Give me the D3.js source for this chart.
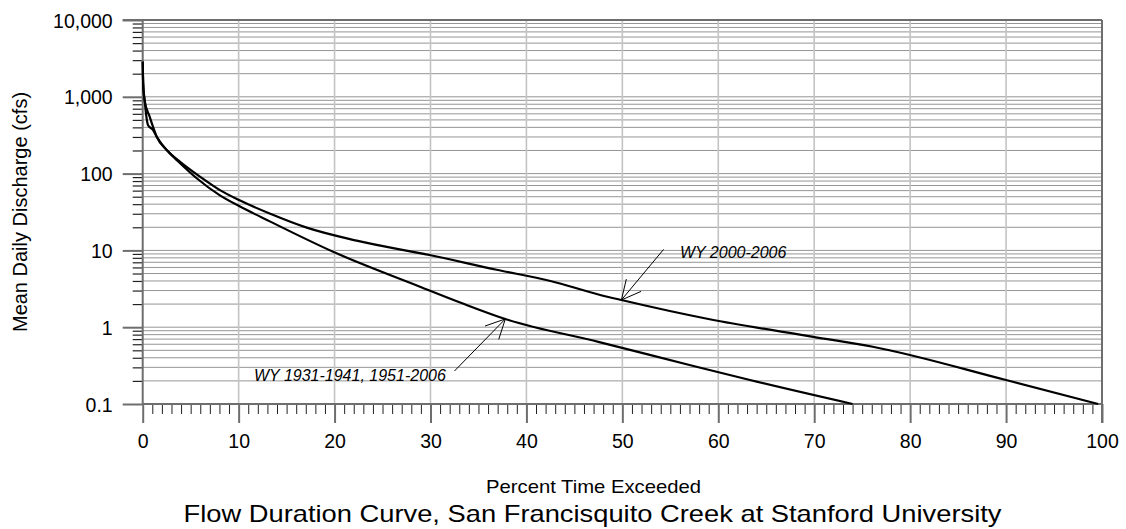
<!DOCTYPE html>
<html>
<head>
<meta charset="utf-8">
<script src="https://cdn.jsdelivr.net/npm/d3@7"></script>
<style>
  html, body { margin: 0; padding: 0; background: #fff; }
  svg { display: block; }
  text { font-family: "Liberation Sans", Arial, sans-serif; fill: #000; }
</style>
</head>
<body>
<svg id="chart" width="1126" height="529"></svg>
<script>
// ---------------- DATA ----------------
const seriesNames = ["WY 2000-2006", "WY 1931-1941, 1951-2006"];

// WY 2000-2006
const pctA  = [0, 0.05, 0.2, 0.55, 1.07, 1.46, 2.5, 3.68, 6.15, 8.05, 10.1, 13.3, 17.1, 22.3, 29.9, 36.9, 42.5, 47.6, 49.9, 59.1, 69.9, 76.1, 90, 99.6];
const flowA = [2870, 1500, 900, 430, 370, 302, 203, 150, 88, 61, 45, 30, 19.8, 13.4, 8.7, 5.6, 4.0, 2.65, 2.26, 1.27, 0.75, 0.557, 0.205, 0.1];

// WY 1931-1941, 1951-2006
const pctB  = [0, 0.05, 0.2, 0.73, 1.07, 1.46, 2.5, 3.68, 5.63, 8.05, 10.1, 13.3, 19.85, 28.9, 33.3, 37.8, 47.6, 57, 63.3, 74];
const flowB = [2870, 1500, 900, 550, 408, 302, 203, 145, 87, 52, 37.5, 23.7, 9.6, 3.37, 2.05, 1.28, 0.64, 0.322, 0.205, 0.1];

// Axis ticks
const xTicks = [0, 10, 20, 30, 40, 50, 60, 70, 80, 90, 100];
const yTicks = [0.1, 1, 10, 100, 1000, 10000];
const yTickLabels = ["0.1", "1", "10", "100", "1,000", "10,000"];

// Annotation anchors (data space): [arrow tip pct, tip flow, tail pct, tail flow, label pct, label flow]
const annA = [49.9, 2.26, 54.3, 10.3, 56.0, 7.9];
const annB = [37.8, 1.28, 32.5, 0.269, 11.6, 0.199];

const chartTitle = "Flow Duration Curve, San Francisquito Creek at Stanford University";
const xTitle = "Percent Time Exceeded";
const yTitle = "Mean Daily Discharge (cfs)";

// ---------------- DRAW ----------------
const svg = d3.select("#chart");
const L = 142.7, R = 1102, T = 20, B = 404;

const x = d3.scaleLinear().domain([0, 100]).range([L, R]);
const y = d3.scaleLog().domain([0.1, 10000]).range([B, T]);

// horizontal gridlines (all log ticks)
svg.append("g").selectAll("line")
  .data(y.ticks())
  .join("line")
  .attr("x1", L).attr("x2", R)
  .attr("y1", d => y(d)).attr("y2", d => y(d))
  .attr("stroke", "#959595").attr("stroke-width", 1);

// vertical gridlines
svg.append("g").selectAll("line")
  .data(xTicks.filter(d => d > 0 && d < 100))
  .join("line")
  .attr("x1", d => x(d)).attr("x2", d => x(d))
  .attr("y1", T).attr("y2", B)
  .attr("stroke", "#c4c4c4").attr("stroke-width", 1.6);

// Y minor ticks
const yMinor = y.ticks().filter(d => !yTicks.includes(d));
const yMinorAxis = svg.append("g")
  .attr("transform", `translate(${L},0)`)
  .call(d3.axisLeft(y).tickValues(yMinor).tickSize(10).tickFormat(""));
yMinorAxis.select(".domain").remove();
yMinorAxis.selectAll("line").attr("stroke", "#222").attr("stroke-width", 1.2);

// Y major ticks + labels
const yAxis = svg.append("g")
  .attr("transform", `translate(${L},0)`)
  .call(d3.axisLeft(y).tickValues(yTicks).tickSize(20).tickPadding(10)
        .tickFormat((d, i) => yTickLabels[i]));
yAxis.select(".domain").remove();
yAxis.selectAll("line").attr("stroke", "#6e6e6e").attr("stroke-width", 2);
yAxis.selectAll("text")
  .style("font-family", "'Liberation Sans', Arial, sans-serif")
  .style("font-size", "19.5px").attr("fill", "#000").attr("dy", "0.36em");

// X minor ticks
const xMinor = d3.range(0, 101).filter(d => d % 10 !== 0);
const xMinorAxis = svg.append("g")
  .attr("transform", `translate(0,${B})`)
  .call(d3.axisBottom(x).tickValues(xMinor).tickSize(10).tickFormat(""));
xMinorAxis.select(".domain").remove();
xMinorAxis.selectAll("line").attr("stroke", "#222").attr("stroke-width", 1);

// X major ticks + labels
const xAxis = svg.append("g")
  .attr("transform", `translate(0,${B})`)
  .call(d3.axisBottom(x).tickValues(xTicks).tickSize(19).tickPadding(11)
        .tickFormat(d3.format("d")));
xAxis.select(".domain").remove();
xAxis.selectAll("line").attr("stroke", "#6e6e6e").attr("stroke-width", 2);
xAxis.selectAll("text")
  .style("font-family", "'Liberation Sans', Arial, sans-serif")
  .style("font-size", "19.5px").attr("fill", "#000").attr("dy", "0.72em");

// frame lines
const frame = svg.append("g").attr("stroke", "#6e6e6e").attr("stroke-width", 2).attr("fill", "none");
frame.append("line").attr("x1", x(0)).attr("x2", x(0)).attr("y1", y(10000)).attr("y2", y(0.1));
frame.append("line").attr("x1", x(100)).attr("x2", x(100)).attr("y1", y(10000)).attr("y2", y(0.1) + 19);
frame.append("line").attr("x1", x(0)).attr("x2", x(100)).attr("y1", y(0.1)).attr("y2", y(0.1));
frame.append("line").attr("x1", x(0) - 20).attr("x2", x(100)).attr("y1", y(10000)).attr("y2", y(10000));

// curves
const line = d3.line().x(d => x(d[0])).y(d => y(d[1])).curve(d3.curveMonotoneX);
const dataA = pctA.map((p, i) => [p, flowA[i]]);
const dataB = pctB.map((p, i) => [p, flowB[i]]);
svg.append("g").selectAll("path")
  .data([dataA, dataB])
  .join("path")
  .attr("d", line)
  .attr("fill", "none")
  .attr("stroke", "#000")
  .attr("stroke-width", 2.2)
  .attr("stroke-linejoin", "round");

// annotations
function annotate(a, label) {
  const tx = x(a[0]), ty = y(a[1]);
  const sx = x(a[2]), sy = y(a[3]);
  const g = svg.append("g").attr("stroke", "#000").attr("stroke-width", 1).attr("fill", "none");
  g.append("line").attr("x1", sx).attr("y1", sy).attr("x2", tx).attr("y2", ty);
  const ang = Math.atan2(sy - ty, sx - tx);
  const hl = 21.5, ha = 26.5 * Math.PI / 180;
  [ang - ha, ang + ha].forEach(a2 => {
    g.append("line").attr("x1", tx).attr("y1", ty)
      .attr("x2", tx + hl * Math.cos(a2)).attr("y2", ty + hl * Math.sin(a2));
  });
  svg.append("text")
    .attr("x", x(a[4])).attr("y", y(a[5]))
    .style("font-size", "16px").style("font-style", "italic")
    .text(label);
}
annotate(annA, seriesNames[0]);
annotate(annB, seriesNames[1]);

// axis titles
svg.append("text")
  .attr("x", 593.5).attr("y", 493)
  .attr("text-anchor", "middle")
  .attr("textLength", 215).attr("lengthAdjust", "spacingAndGlyphs")
  .style("font-size", "19px")
  .text(xTitle);

svg.append("text")
  .attr("transform", `translate(27,${(T + B) / 2}) rotate(-90)`)
  .attr("text-anchor", "middle")
  .style("font-size", "20px")
  .text(yTitle);

svg.append("text")
  .attr("x", 592.5).attr("y", 521.5)
  .attr("text-anchor", "middle")
  .attr("textLength", 818).attr("lengthAdjust", "spacingAndGlyphs")
  .style("font-size", "24px")
  .text(chartTitle);
</script>
</body>
</html>
